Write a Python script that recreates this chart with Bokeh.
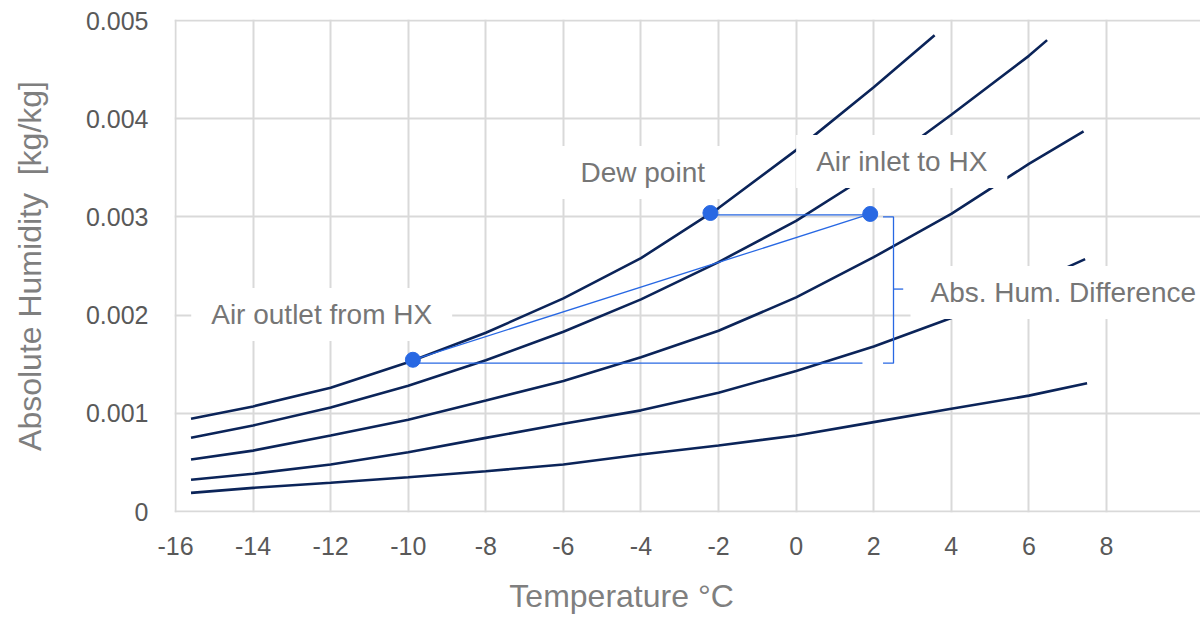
from bokeh.plotting import figure
from bokeh.models import Range1d, FixedTicker, Label, LinearAxis
from bokeh.embed import file_html
from bokeh.resources import INLINE

# ---- data: absolute humidity [kg/kg] vs temperature [°C] along constant-RH curves ----
t_rh100 = [-15.6, -14, -12, -10, -8, -6, -4, -2, 0, 2, 3.57]
h_rh100 = [0.000944, 0.00107, 0.00126, 0.00152, 0.00182, 0.00217, 0.00258, 0.00309, 0.00368, 0.00432, 0.00485]

t_rh80 = [-15.6, -14, -12, -10, -8, -6, -4, -2, 0, 2, 4, 6, 6.47]
h_rh80 = [0.00075, 0.000876, 0.00106, 0.00128, 0.00154, 0.00183, 0.00216, 0.00254, 0.00296, 0.00346, 0.00404, 0.00464, 0.0048]

t_rh60 = [-15.6, -14, -12, -10, -8, -6, -4, -2, 0, 2, 4, 6, 7.41]
h_rh60 = [0.00053, 0.00062, 0.000774, 0.000934, 0.00113, 0.00133, 0.00157, 0.00184, 0.00218, 0.00259, 0.00303, 0.00354, 0.00387]

t_rh40 = [-15.6, -14, -12, -10, -8, -6, -4, -2, 0, 2, 4, 6, 7.45]
h_rh40 = [0.000323, 0.000384, 0.000479, 0.000604, 0.00075, 0.000893, 0.00103, 0.00121, 0.00143, 0.00168, 0.00197, 0.00231, 0.00257]

t_rh20 = [-15.6, -14, -12, -10, -8, -6, -4, -2, 0, 2, 4, 6, 7.5]
h_rh20 = [0.00019, 0.000241, 0.000292, 0.000349, 0.00041, 0.000479, 0.00058, 0.000672, 0.000774, 0.00091, 0.001046, 0.00118, 0.001307]

# state points: air outlet from HX, dew point, air inlet to HX
point_names = ["Air outlet from HX", "Dew point", "Air inlet to HX"]
point_t = [-9.88, -2.21, 1.91]
point_h = [0.001545, 0.00304, 0.00303]

# absolute humidity levels (inlet, outlet) for the difference bracket
abs_hum_levels = [0.00302, 0.00151]
diff_label = "Abs. Hum. Difference"

x_ticks = [-16, -14, -12, -10, -8, -6, -4, -2, 0, 2, 4, 6, 8]
x_tick_labels = ["-16", "-14", "-12", "-10", "-8", "-6", "-4", "-2", "0", "2", "4", "6", "8"]
y_ticks = [0, 0.001, 0.002, 0.003, 0.004, 0.005]
y_tick_labels = ["0", "0.001", "0.002", "0.003", "0.004", "0.005"]
x_title = "Temperature °C"
y_title = "Absolute Humidity\u00a0 [kg/kg]"

FONT = "Liberation Sans"
NAVY = "#0b2459"
BLUE = "#2868e3"
GRID = "#d9d9d9"

# layout: frame spans from x=-16 to the right edge of the figure so that the
# "Abs. Hum. Difference" label can extend past x=8 without being clipped
W, H = 1200, 620
LEFT, TOP, BOTTOM = 174, 19, 108
PX_X = 38.79          # pixels per °C
PX_Y = 98.2 / 0.001   # pixels per kg/kg
x_start = x_ticks[0] - 1 / PX_X
x_end = x_start + (W - LEFT) / PX_X
y_start = y_ticks[0] - 1 / PX_Y
y_end = y_ticks[-1] + 1 / PX_Y
X_TITLE_AT = -4.5     # horizontal centre of the x-axis title (as in the reference)

p = figure(width=W, height=H,
           x_range=Range1d(x_start, x_end), y_range=Range1d(y_start, y_end),
           output_backend="svg", toolbar_location=None,
           min_border_left=LEFT, min_border_right=0,
           min_border_top=TOP, min_border_bottom=BOTTOM)
p.background_fill_color = "white"
p.border_fill_color = "white"
p.outline_line_color = None

p.xaxis.ticker = FixedTicker(ticks=x_ticks)
p.yaxis.ticker = FixedTicker(ticks=y_ticks)
p.xaxis.major_label_overrides = dict(zip(x_ticks, x_tick_labels))
p.yaxis.major_label_overrides = dict(zip(y_ticks, y_tick_labels))
p.xgrid.ticker = FixedTicker(ticks=x_ticks)
p.ygrid.ticker = FixedTicker(ticks=y_ticks)
p.ygrid.bounds = (x_ticks[0], x_ticks[-1])
p.xgrid.bounds = (y_ticks[0], y_ticks[-1])
for g in (p.xgrid, p.ygrid):
    g.grid_line_color = GRID
    g.grid_line_width = 2

# x-axis title drawn as the single label of a second, otherwise empty axis
title_axis = LinearAxis(ticker=FixedTicker(ticks=[X_TITLE_AT]),
                        major_label_overrides={X_TITLE_AT: x_title})
p.add_layout(title_axis, "below")

for ax in (p.xaxis[0], p.yaxis[0], title_axis):
    ax.axis_line_color = None
    ax.major_tick_line_color = None
    ax.minor_tick_line_color = None
    ax.major_tick_out = 0
    ax.major_tick_in = 0
    ax.major_label_text_font = FONT
    ax.major_label_text_font_size = "25px"
    ax.major_label_text_color = "#595959"
    ax.axis_label_text_font = FONT
    ax.axis_label_text_font_size = "32px"
    ax.axis_label_text_font_style = "normal"
    ax.axis_label_text_color = "#7f7f7f"

title_axis.major_label_text_font_size = "32px"
title_axis.major_label_text_color = "#7f7f7f"
title_axis.major_label_standoff = 20
p.yaxis.axis_label = y_title
p.xaxis[0].major_label_standoff = 24
p.yaxis.major_label_standoff = 26
p.yaxis.axis_label_standoff = 35

# RH curves
for t, h in [(t_rh100, h_rh100), (t_rh80, h_rh80), (t_rh60, h_rh60),
             (t_rh40, h_rh40), (t_rh20, h_rh20)]:
    p.line(t, h, line_color=NAVY, line_width=2.6)

# process lines
t_out, t_dew, t_in = point_t
h_out, h_dew, h_in = point_h
p.line([t_out, t_in], [h_out, h_in], line_color=BLUE, line_width=1.3)
p.line([t_dew, t_in], [abs_hum_levels[0], abs_hum_levels[0]], line_color=BLUE, line_width=1.3)
p.line([t_out, t_in - 0.2], [abs_hum_levels[1], abs_hum_levels[1]], line_color=BLUE, line_width=1.3)

# bracket showing the absolute humidity difference
bx0, bx1, bx2 = t_in + 0.33, t_in + 0.6, t_in + 0.85
h_top, h_bot = abs_hum_levels
h_mid = (h_top + h_bot) / 2
p.line([bx0, bx1, bx1, bx0], [h_top - 0.00002, h_top - 0.00002, h_bot, h_bot],
       line_color=BLUE, line_width=1.3)
p.line([bx1, bx2], [h_mid, h_mid], line_color=BLUE, line_width=1.3)

p.scatter(point_t, point_h, size=15, color=BLUE, line_color=BLUE)

# data labels with white boxes
label_pos = [(-15.595, 0.002006), (-6.075, 0.003452), (0.0, 0.003564), (2.948, 0.00223)]
texts = point_names + [diff_label]
for (lx, ly), txt in zip(label_pos, texts):
    p.add_layout(Label(x=lx, y=ly, text=txt, text_font=FONT, text_font_size="28px",
                       text_color="#767676", text_align="left", text_baseline="middle",
                       background_fill_color="white",
                       padding=dict(left=20, right=20, top=11, bottom=11)))

open("out.html", "w").write(file_html(p, INLINE))
